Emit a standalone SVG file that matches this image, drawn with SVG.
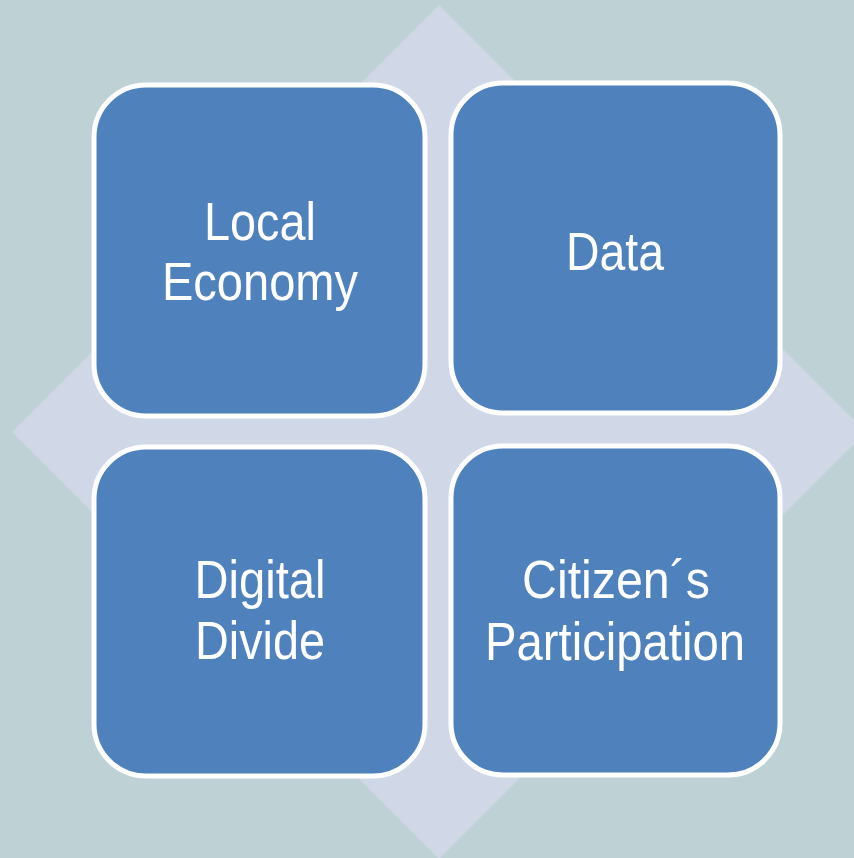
<svg xmlns="http://www.w3.org/2000/svg" width="854" height="858" viewBox="0 0 854 858">
<style>
.box{fill:#4F81BD;stroke:#FFFFFF;stroke-width:5}
.lbl{fill:#FFFFFF;font-family:"Liberation Sans",Arial,sans-serif;font-size:54px;text-anchor:middle}
</style>
<rect width="854" height="858" fill="#BED1D4"/>
<polygon points="439,5 866,432 439,859 12,432" fill="#D0D8E8"/>
<g id="local-economy">
<rect class="box" x="94" y="85" width="331" height="331" rx="52"/>
<text class="lbl" x="260" y="240" textLength="112" lengthAdjust="spacingAndGlyphs">Local</text>
<text class="lbl" x="260" y="300" textLength="196" lengthAdjust="spacingAndGlyphs">Economy</text>
</g>
<g id="data">
<rect class="box" x="451" y="83" width="329" height="330" rx="52"/>
<text class="lbl" x="615" y="270" textLength="98" lengthAdjust="spacingAndGlyphs">Data</text>
</g>
<g id="digital-divide">
<rect class="box" x="94" y="447" width="331" height="329" rx="52"/>
<text class="lbl" x="260" y="598" textLength="131" lengthAdjust="spacingAndGlyphs">Digital</text>
<text class="lbl" x="260" y="659" textLength="130" lengthAdjust="spacingAndGlyphs">Divide</text>
</g>
<g id="citizens-participation">
<rect class="box" x="451" y="446" width="329" height="329" rx="52"/>
<text class="lbl" x="616" y="598" textLength="188" lengthAdjust="spacingAndGlyphs">Citizen´s</text>
<text class="lbl" x="615" y="660" textLength="260" lengthAdjust="spacingAndGlyphs">Participation</text>
</g>
<g id="connectors"/>
</svg>
